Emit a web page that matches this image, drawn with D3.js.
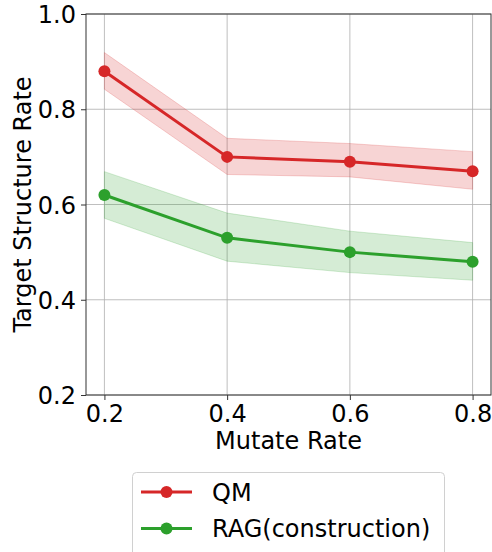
<!DOCTYPE html>
<html><head><meta charset="utf-8">
<script src="https://cdn.jsdelivr.net/npm/d3@7"></script>
<style>body{margin:0;background:#fff}svg{display:block;font-family:"DejaVu Sans",sans-serif}</style>
</head><body>
<svg id="c" width="492" height="552"></svg>
<script>
const mutateRates = [0.2, 0.4, 0.6, 0.8];
const xTicks = [0.2, 0.4, 0.6, 0.8];
const yTicks = [0.2, 0.4, 0.6, 0.8, 1.0];
const qmMean = [0.88, 0.70, 0.69, 0.67];
const qmLow  = [0.842, 0.663, 0.658, 0.632];
const qmHigh = [0.919, 0.739, 0.728, 0.711];
const ragMean = [0.62, 0.53, 0.50, 0.48];
const ragLow  = [0.571, 0.481, 0.457, 0.441];
const ragHigh = [0.669, 0.582, 0.544, 0.520];
const seriesNames = ["QM", "RAG(construction)"];
const colors = ["#d62728", "#2ca02c"];

const FS = 24;
const svg = d3.select("#c");
const L = 86, R = 491, T = 14, B = 395;
const x = d3.scaleLinear().domain([0.17, 0.83]).range([L, R]);
const y = d3.scaleLinear().domain([0.2, 1.0]).range([B, T]);

// grid
const g = svg.append("g");
g.selectAll(".gx").data(xTicks).join("line")
  .attr("x1", d => x(d)).attr("x2", d => x(d)).attr("y1", T).attr("y2", B)
  .attr("stroke", "#b0b0b0").attr("stroke-width", 1).attr("opacity", 0.8);
g.selectAll(".gy").data(yTicks).join("line")
  .attr("y1", d => y(d)).attr("y2", d => y(d)).attr("x1", L).attr("x2", R)
  .attr("stroke", "#b0b0b0").attr("stroke-width", 1).attr("opacity", 0.8);

const series = [
  {name: seriesNames[0], mean: qmMean, low: qmLow, high: qmHigh, color: colors[0]},
  {name: seriesNames[1], mean: ragMean, low: ragLow, high: ragHigh, color: colors[1]}
];

const area = d3.area().x((d, i) => x(mutateRates[i])).y0(d => y(d[0])).y1(d => y(d[1]));
const line = d3.line().x((d, i) => x(mutateRates[i])).y(d => y(d));

series.forEach(s => {
  const band = s.low.map((v, i) => [v, s.high[i]]);
  svg.append("path").datum(band).attr("d", area)
    .attr("fill", s.color).attr("fill-opacity", 0.2)
    .attr("stroke", s.color).attr("stroke-opacity", 0.2).attr("stroke-width", 1);
});
series.forEach(s => {
  svg.append("path").datum(s.mean).attr("d", line)
    .attr("fill", "none").attr("stroke", s.color).attr("stroke-width", 3);
  svg.selectAll(null).data(s.mean).join("circle")
    .attr("cx", (d, i) => x(mutateRates[i])).attr("cy", d => y(d)).attr("r", 6)
    .attr("fill", s.color);
});

// axes
const xAxis = d3.axisBottom(x).tickValues(xTicks).tickFormat(d3.format(".1f")).tickSizeOuter(0).tickSize(5).tickPadding(5);
const yAxis = d3.axisLeft(y).tickValues(yTicks).tickFormat(d3.format(".1f")).tickSizeOuter(0).tickSize(5).tickPadding(5);
const gx = svg.append("g").attr("transform", `translate(0,${B})`).call(xAxis);
const gy = svg.append("g").attr("transform", `translate(${L},0)`).call(yAxis);
[gx, gy].forEach(a => {
  a.select(".domain").remove();
  a.selectAll("text").attr("font-size", FS).attr("fill", "#000").attr("font-family", "DejaVu Sans");
  a.selectAll("line").attr("stroke", "#333");
});
gy.selectAll("text").attr("dy", "0.36em");
svg.append("rect").attr("x", L).attr("y", T).attr("width", R - L).attr("height", B - T)
  .attr("fill", "none").attr("stroke", "#333").attr("stroke-width", 1);

svg.append("text").attr("x", (L + R) / 2).attr("y", 449).attr("text-anchor", "middle")
  .attr("font-size", FS).text("Mutate Rate");
svg.append("text").attr("transform", `translate(31,${(T + B) / 2}) rotate(-90)`).attr("text-anchor", "middle")
  .attr("font-size", FS).text("Target Structure Rate");

// legend
const lg = svg.append("g");
lg.append("rect").attr("x", 132.5).attr("y", 472.5).attr("width", 312).attr("height", 90).attr("rx", 4)
  .attr("fill", "#fff").attr("stroke", "#d0d0d0").attr("stroke-width", 1);
series.forEach((s, i) => {
  const cy = 492 + i * 36.5;
  lg.append("line").attr("x1", 141).attr("x2", 192).attr("y1", cy).attr("y2", cy)
    .attr("stroke", s.color).attr("stroke-width", 3);
  lg.append("circle").attr("cx", 166.5).attr("cy", cy).attr("r", 6).attr("fill", s.color);
  lg.append("text").attr("x", 212).attr("y", cy).attr("dy", "0.36em").attr("font-size", FS).text(s.name);
});
</script>
</body></html>
